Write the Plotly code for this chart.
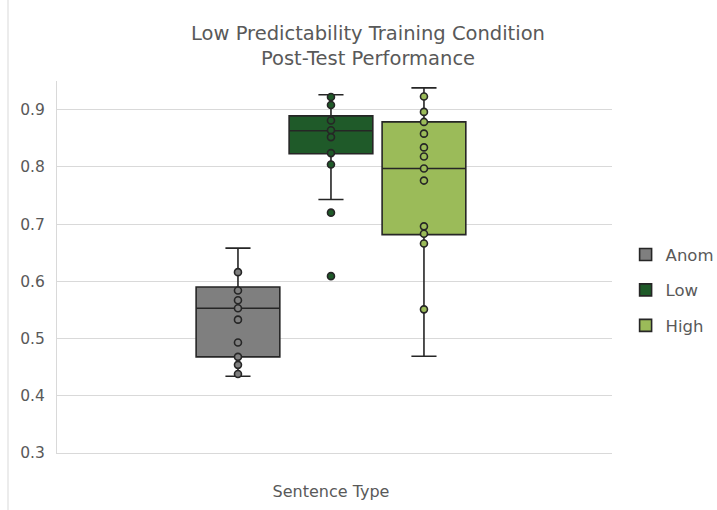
import plotly.graph_objects as go

# ---- data ----
series_names = ["Anom", "Low", "High"]
category_label = "Sentence Type"

anom_points = [0.616, 0.584, 0.567, 0.553, 0.533, 0.493, 0.468, 0.454, 0.438]
low_points = [0.922, 0.908, 0.881, 0.864, 0.852, 0.824, 0.804, 0.720, 0.609]
high_points = [0.923, 0.896, 0.8785, 0.858, 0.834, 0.818, 0.797, 0.776, 0.696, 0.683, 0.666, 0.551]

q1_vals = [0.468, 0.823, 0.6815]
median_vals = [0.553, 0.863, 0.797]
q3_vals = [0.590, 0.889, 0.8785]
lower_whisker = [0.434, 0.743, 0.469]
upper_whisker = [0.658, 0.926, 0.938]

y_ticks = [0.3, 0.4, 0.5, 0.6, 0.7, 0.8, 0.9]

# ---- styles ----
fills = ["#7f7f7f", "#1f5a29", "#9bbb59"]
edge = "#262626"
text_col = "#595959"
grid_col = "#d9d9d9"
font_family = "DejaVu Sans"

all_points = [anom_points, low_points, high_points]
positions = [i - 1 for i in range(len(series_names))]

fig = go.Figure()
for i, name in enumerate(series_names):
    fig.add_trace(go.Box(
        x=[positions[i]],
        q1=[q1_vals[i]], median=[median_vals[i]], q3=[q3_vals[i]],
        lowerfence=[lower_whisker[i]], upperfence=[upper_whisker[i]],
        name=name, width=0.9,
        fillcolor=fills[i],
        line=dict(color=edge, width=1.6),
        whiskerwidth=0.3,
        boxpoints=False,
        legendgroup=name,
        hoverinfo="skip",
    ))
for i, name in enumerate(series_names):
    pts = all_points[i]
    fig.add_trace(go.Scatter(
        x=[positions[i]] * len(pts), y=pts,
        mode="markers",
        marker=dict(size=7, color=fills[i], line=dict(color=edge, width=1.6)),
        showlegend=False, legendgroup=name, hoverinfo="skip",
    ))

fig.update_layout(
    width=717, height=510,
    margin=dict(l=57, r=105, t=81, b=57, autoexpand=False),
    paper_bgcolor="white", plot_bgcolor="white",
    font=dict(family=font_family, color=text_col, size=16),
    title=dict(
        text="Low Predictability Training Condition<br>Post-Test Performance",
        x=368 / 717, xanchor="center", xref="container",
        y=1 - 40 / 510, yanchor="top", yref="container",
        font=dict(size=19.5, color=text_col, family=font_family),
    ),
    showlegend=True,
    legend=dict(
        x=1.0245, xanchor="left", y=0.58, yanchor="top",
        font=dict(size=16.5, color=text_col, family=font_family),
        tracegroupgap=11, bgcolor="rgba(0,0,0,0)",
    ),
    xaxis=dict(
        range=[-2.946, 3.022],
        tickvals=[0], ticktext=[category_label],
        ticks="", showgrid=False, zeroline=False,
        showline=True, linecolor=grid_col, linewidth=1,
        ticklabelstandoff=24, automargin=False,
        tickfont=dict(size=16, color=text_col),
    ),
    yaxis=dict(
        range=[0.3, 0.95],
        tickvals=y_ticks, ticktext=[f"{v:.1f}" for v in y_ticks],
        showgrid=True, gridcolor=grid_col, gridwidth=1,
        zeroline=False, showline=True, linecolor=grid_col, linewidth=1,
        ticks="", ticklabelstandoff=8, automargin=False,
        tickfont=dict(size=15.5, color=text_col),
    ),
    shapes=[dict(type="line", xref="paper", yref="paper",
                 x0=-49 / 555, x1=-49 / 555, y0=-0.2, y1=1.3,
                 line=dict(color=grid_col, width=1))],
)

fig.write_html("out.html", config={"displayModeBar": False},
               post_script="document.body.style.margin='0px';")
